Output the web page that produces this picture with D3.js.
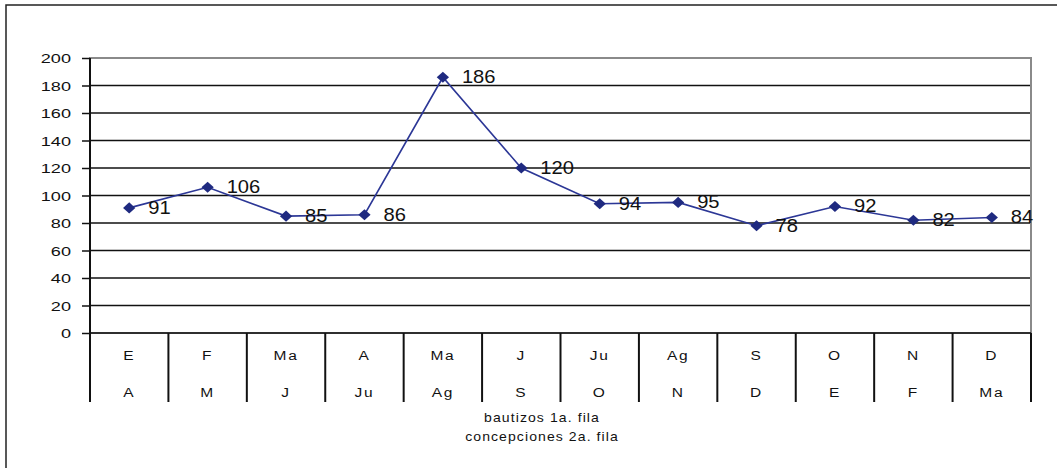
<!DOCTYPE html>
<html><head><meta charset="utf-8">
<script src="https://cdn.jsdelivr.net/npm/d3@7"></script>
<style>
html,body{margin:0;padding:0;background:#fff;}
svg{display:block;font-family:"Liberation Sans",Arial,sans-serif;}
</style></head>
<body>
<svg id="chart" width="1057" height="468"></svg>
<script>
const row1 = ["E","F","Ma","A","Ma","J","Ju","Ag","S","O","N","D"];
const row2 = ["A","M","J","Ju","Ag","S","O","N","D","E","F","Ma"];
const values = [91,106,85,86,186,120,94,95,78,92,82,84];
const yTicks = [0,20,40,60,80,100,120,140,160,180,200];
const footer = ["bautizos 1a. fila","concepciones 2a. fila"];

const svg = d3.select("#chart");
const L = 90, R = 1031, T = 58, B = 333, AX = 402;

// outer frame
svg.append("rect").attr("x",6).attr("y",5).attr("width",1200).attr("height",600)
  .attr("fill","none").attr("stroke","#222").attr("stroke-width",1.5);

const x = d3.scaleBand().domain(d3.range(values.length)).range([L,R]);
const y = d3.scaleLinear().domain([0,200]).range([B,T]);

// gridlines
svg.append("g").selectAll("line").data(yTicks.filter(d=>d>0 && d<200)).join("line")
  .attr("x1",L).attr("x2",R).attr("y1",d=>y(d)).attr("y2",d=>y(d))
  .attr("stroke","#111").attr("stroke-width",1.5);

// plot border (gray)
svg.append("rect").attr("x",L).attr("y",T).attr("width",R-L).attr("height",B-T)
  .attr("fill","none").attr("stroke","#8a8a8a").attr("stroke-width",2);

// y axis
const yAxis = svg.append("g").attr("transform",`translate(${L},0)`)
  .call(d3.axisLeft(y).tickValues(yTicks).tickSize(8).tickSizeOuter(0));
yAxis.select(".domain").remove();
yAxis.selectAll(".tick line").attr("stroke","#111").attr("stroke-width",1.5);
yAxis.selectAll(".tick text").attr("x",0).attr("dy","0.36em")
  .attr("transform","translate(-19,0) scale(1.45,1)")
  .attr("font-size",12.5).attr("fill","#111")
  .attr("font-family","'Liberation Sans',Arial,sans-serif");

// category axis line and dividers
svg.append("line").attr("x1",L).attr("x2",R).attr("y1",B).attr("y2",B)
  .attr("stroke","#111").attr("stroke-width",1.5);
const dividers = d3.range(values.length+1).map(i => i<values.length ? x(i) : R);
svg.append("g").selectAll("line").data(dividers).join("line")
  .attr("x1",d=>d).attr("x2",d=>d)
  .attr("y1",(d,i)=> i===0 ? T : B).attr("y2",AX)
  .attr("stroke","#111").attr("stroke-width",2);

// category labels
const cx = i => x(i) + x.bandwidth()/2;
svg.append("g").selectAll("text").data(row1).join("text")
  .attr("transform",(d,i)=>`translate(${cx(i)},360) scale(1.15,1)`)
  .attr("text-anchor","middle").attr("font-size",13.5).attr("letter-spacing",1.5)
  .attr("fill","#111").text(d=>d);
svg.append("g").selectAll("text").data(row2).join("text")
  .attr("transform",(d,i)=>`translate(${cx(i)},397) scale(1.15,1)`)
  .attr("text-anchor","middle").attr("font-size",13.5).attr("letter-spacing",1.5)
  .attr("fill","#111").text(d=>d);

// footer
svg.append("g").selectAll("text").data(footer).join("text")
  .attr("transform",(d,i)=>`translate(542,${422+i*19}) scale(1.08,1)`)
  .attr("text-anchor","middle").attr("font-size",13).attr("letter-spacing",1)
  .attr("fill","#111").text(d=>d);

// line
const line = d3.line().x((d,i)=>cx(i)).y(d=>y(d));
svg.append("path").datum(values).attr("d",line)
  .attr("fill","none").attr("stroke","#2c3796").attr("stroke-width",1.6);

// markers
const diamond = d3.symbol().type(d3.symbolDiamond).size(36);
svg.append("g").selectAll("path").data(values).join("path")
  .attr("d",diamond).attr("transform",(d,i)=>`translate(${cx(i)},${y(d)}) scale(1.9,1)`)
  .attr("fill","#1f2a80");

// data labels
svg.append("g").selectAll("text").data(values).join("text")
  .attr("transform",(d,i)=>`translate(${cx(i)+19},${y(d)+1}) scale(1.12,1)`)
  .attr("dominant-baseline","middle").attr("font-size",18).attr("fill","#111")
  .text(d=>d);
</script>
</body></html>
